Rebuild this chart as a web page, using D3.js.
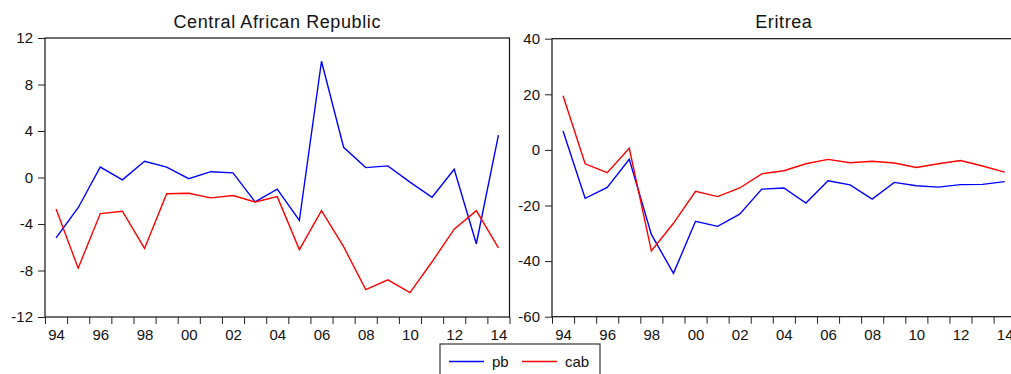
<!DOCTYPE html>
<html>
<head>
<meta charset="utf-8">
<script src="https://cdn.jsdelivr.net/npm/d3@7"></script>
<style>
  html, body { margin: 0; padding: 0; background: #fff; }
  svg { display: block; font-family: "Liberation Sans", Arial, sans-serif; }
</style>
</head>
<body>
<svg id="chart" width="1011" height="374"></svg>
<script>
// Annual observations, 1994-2014
const years = [1994, 1995, 1996, 1997, 1998, 1999, 2000, 2001, 2002, 2003, 2004,
               2005, 2006, 2007, 2008, 2009, 2010, 2011, 2012, 2013, 2014];
const yearLabels = [1994, 1996, 1998, 2000, 2002, 2004, 2006, 2008, 2010, 2012, 2014];

// Central African Republic
const carPb  = [-5.2, -2.6, 0.9, -0.2, 1.4, 0.9, -0.1, 0.5, 0.4, -2.1, -1.0,
                -3.7, 10.0, 2.6, 0.85, 1.0, -0.4, -1.7, 0.7, -5.7, 3.65];
const carCab = [-2.7, -7.8, -3.1, -2.9, -6.1, -1.4, -1.35, -1.75, -1.55, -2.1, -1.65,
                -6.2, -2.85, -5.95, -9.65, -8.8, -9.9, -7.25, -4.45, -2.85, -6.05];
const carTicks = [12, 8, 4, 0, -4, -8, -12];

// Eritrea
const eriPb  = [6.8, -17.4, -13.5, -3.4, -30.4, -44.4, -25.7, -27.5, -23.1, -14.1, -13.7,
                -19.1, -11.1, -12.6, -17.7, -11.7, -12.9, -13.4, -12.5, -12.4, -11.4];
const eriCab = [19.5, -5.0, -8.2, 0.6, -36.3, -26.4, -14.9, -16.8, -13.7, -8.6, -7.5,
                -5.0, -3.4, -4.6, -4.1, -4.7, -6.3, -5.0, -3.8, -5.8, -8.0];
const eriTicks = [40, 20, 0, -20, -40, -60];

const seriesNames = ["pb", "cab"];
const seriesColors = ["#0000ff", "#ff0000"];

const svg = d3.select("#chart");

function panel(cfg) {
  const g = svg.append("g");
  const n = years.length;
  // year index -> horizontal position; each year sits in the middle of its slot
  const x = d3.scaleLinear().domain([-0.5, n - 0.5]).range([cfg.x0, cfg.x1]);
  const y = d3.scaleLinear().domain(cfg.domain).range([cfg.y1, cfg.y0]);

  // frame
  g.append("rect")
    .attr("x", cfg.x0).attr("y", cfg.y0)
    .attr("width", cfg.x1 - cfg.x0).attr("height", cfg.y1 - cfg.y0)
    .attr("fill", "none").attr("stroke", "#111").attr("stroke-width", 1.2);

  // x ticks at slot boundaries
  const xTickAxis = d3.axisBottom(x)
    .tickValues(d3.range(-0.5, n, 1))
    .tickSize(7).tickFormat("");
  const gx = g.append("g").attr("transform", `translate(0,${cfg.y1})`).call(xTickAxis);
  gx.select(".domain").remove();
  gx.selectAll(".tick line").attr("stroke", "#222");

  // x labels every other year
  const xLabelAxis = d3.axisBottom(x)
    .tickValues(yearLabels.map(yr => years.indexOf(yr)))
    .tickSize(0)
    .tickFormat(i => String(years[i]).slice(2));
  const gl = g.append("g").attr("transform", `translate(0,${cfg.y1})`).call(xLabelAxis);
  gl.select(".domain").remove();
  gl.selectAll("text").attr("dy", 0).attr("y", 23)
    .attr("font-size", 15).attr("font-family", "Liberation Sans, Arial, sans-serif")
    .attr("fill", "#111");

  // y axis
  const yAxis = d3.axisLeft(y).tickValues(cfg.ticks).tickSize(7).tickPadding(5)
    .tickFormat(d => String(d));
  const gy = g.append("g").attr("transform", `translate(${cfg.x0},0)`).call(yAxis);
  gy.select(".domain").remove();
  gy.selectAll(".tick line").attr("stroke", "#222");
  gy.selectAll("text").attr("font-size", 15)
    .attr("font-family", "Liberation Sans, Arial, sans-serif").attr("fill", "#111");

  // title
  g.append("text")
    .attr("x", (cfg.x0 + cfg.x1) / 2).attr("y", 28)
    .attr("text-anchor", "middle")
    .attr("font-size", 18).attr("letter-spacing", 0.6)
    .attr("fill", "#111")
    .text(cfg.title);

  // series
  const line = d3.line().x((d, i) => x(i)).y(d => y(d));
  cfg.series.forEach((vals, k) => {
    g.append("path")
      .datum(vals)
      .attr("d", line)
      .attr("fill", "none")
      .attr("stroke", seriesColors[k])
      .attr("stroke-width", 1.4)
      .attr("stroke-linejoin", "miter");
  });
}

panel({
  title: "Central African Republic",
  x0: 45, x1: 509.5, y0: 38, y1: 317,
  domain: [-12, 12], ticks: carTicks,
  series: [carPb, carCab]
});

panel({
  title: "Eritrea",
  x0: 552, x1: 1015.7, y0: 38.7, y1: 316.7,
  domain: [-60, 40], ticks: eriTicks,
  series: [eriPb, eriCab]
});

// legend
const leg = svg.append("g");
leg.append("rect")
  .attr("x", 440).attr("y", 344).attr("width", 160).attr("height", 40)
  .attr("fill", "#fff").attr("stroke", "#333").attr("stroke-width", 1.2);
const legItems = [
  { x: 449, name: seriesNames[0], color: seriesColors[0] },
  { x: 522, name: seriesNames[1], color: seriesColors[1] }
];
legItems.forEach(it => {
  leg.append("line")
    .attr("x1", it.x).attr("x2", it.x + 35)
    .attr("y1", 361.5).attr("y2", 361.5)
    .attr("stroke", it.color).attr("stroke-width", 1.4);
  leg.append("text")
    .attr("x", it.x + 43).attr("y", 366.5)
    .attr("font-size", 15).attr("fill", "#111")
    .text(it.name);
});
</script>
</body>
</html>
